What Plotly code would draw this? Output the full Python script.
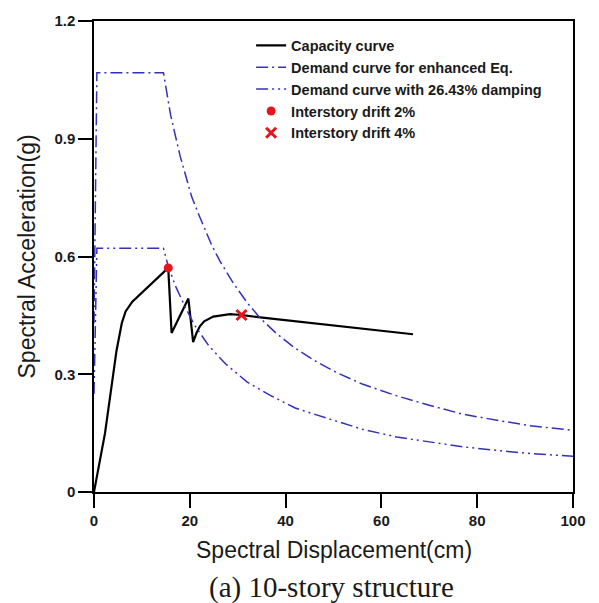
import plotly.graph_objects as go

# ---- data ----
capacity_sd = [0, 2.3, 4.7, 5.8, 6.6, 8.0, 15.5, 16.2, 19.7, 20.7, 21.4, 22.1, 23.0, 24.9, 28.4, 30.8, 34.7, 51.4, 66.6]
capacity_sa = [0, 0.15, 0.36, 0.43, 0.46, 0.485, 0.571, 0.405, 0.493, 0.382, 0.405, 0.422, 0.435, 0.447, 0.453, 0.451, 0.445, 0.422, 0.402]

enh_sd = [0, 0.6, 14.5, 16, 18, 20.4, 22.1, 24.6, 26.3, 29.1, 32, 34.7, 38, 41.6, 46, 50.7, 56, 63.2, 70, 77.1, 85, 91, 100]
enh_sa = [0.43, 1.068, 1.068, 0.96, 0.855, 0.752, 0.70, 0.628, 0.588, 0.532, 0.482, 0.443, 0.405, 0.37, 0.335, 0.304, 0.275, 0.245, 0.221, 0.198, 0.181, 0.169, 0.157]

damp_sd = [0, 0.6, 14.5, 15.5, 17, 19, 21, 24, 27.5, 32, 36.7, 42, 48.6, 56, 63.2, 70, 77.1, 85, 91, 100]
damp_sa = [0.25, 0.621, 0.621, 0.575, 0.525, 0.472, 0.425, 0.372, 0.326, 0.28, 0.247, 0.214, 0.188, 0.16, 0.14, 0.128, 0.115, 0.105, 0.098, 0.091]

drift2_sd = [15.5]
drift2_sa = [0.571]
drift4_sd = [30.8]
drift4_sa = [0.451]

x_ticks = [0, 20, 40, 60, 80, 100]
x_tick_labels = ["0", "20", "40", "60", "80", "100"]
y_ticks = [0, 0.3, 0.6, 0.9, 1.2]
y_tick_labels = ["0", "0.3", "0.6", "0.9", "1.2"]

BLUE = "#3431b8"
RED = "#e8141c"
TXT = "#1a1a1a"

fig = go.Figure()
fig.add_trace(go.Scatter(x=capacity_sd, y=capacity_sa, mode="lines", name="Capacity curve",
                         line=dict(color="black", width=2.2)))
fig.add_trace(go.Scatter(x=enh_sd, y=enh_sa, mode="lines", name="Demand curve for enhanced Eq.",
                         line=dict(color=BLUE, width=1.5, dash="12px,4px,2px,4px")))
fig.add_trace(go.Scatter(x=damp_sd, y=damp_sa, mode="lines", name="Demand curve with 26.43% damping",
                         line=dict(color=BLUE, width=1.5, dash="12px,4px,2px,4px,2px,4px")))
fig.add_trace(go.Scatter(x=drift2_sd, y=drift2_sa, mode="markers", name="Interstory drift 2%",
                         marker=dict(color=RED, size=9, symbol="circle")))
fig.add_trace(go.Scatter(x=drift4_sd, y=drift4_sa, mode="markers", name="Interstory drift 4%",
                         marker=dict(color=RED, size=10, symbol="x-thin", line=dict(color=RED, width=3))))

axis_common = dict(showline=True, linecolor="black", linewidth=1.5, mirror=True,
                   ticks="outside", ticklen=14, tickwidth=1.5, tickcolor="black",
                   showgrid=False, zeroline=False,
                   tickfont=dict(family="Liberation Sans, Arial", size=15, color=TXT))

fig.update_xaxes(range=[0, 100], tickvals=x_ticks,
                 ticktext=["<b>%s</b>" % t for t in x_tick_labels], **axis_common)
fig.update_yaxes(range=[0, 1.2], tickvals=y_ticks,
                 ticktext=["<b>%s</b>" % t for t in y_tick_labels], **axis_common)

fig.update_layout(
    width=599, height=603,
    margin=dict(l=94, r=26, t=17, b=111),
    paper_bgcolor="white", plot_bgcolor="white",
    showlegend=True,
    legend=dict(x=0.328, y=0.982, xanchor="left", yanchor="top",
                bgcolor="rgba(0,0,0,0)", borderwidth=0,
                font=dict(family="Liberation Sans, Arial", size=14.5, color=TXT, weight=700),
                tracegroupgap=0, itemsizing="trace"),
    annotations=[
        dict(text="Spectral Displacement(cm)", xref="paper", yref="paper", x=0.5, y=0,
             yshift=-58, xanchor="center", yanchor="middle", showarrow=False,
             font=dict(family="Liberation Sans, Arial", size=23, color=TXT)),
        dict(text="Spectral Acceleration(g)", xref="paper", yref="paper", x=0, y=0.5,
             xshift=-68, textangle=-90, xanchor="center", yanchor="middle", showarrow=False,
             font=dict(family="Liberation Sans, Arial", size=23, color=TXT)),
        dict(text="(a) 10-story structure", xref="paper", yref="paper", x=0.496, y=0,
             yshift=-95, xanchor="center", yanchor="middle", showarrow=False,
             font=dict(family="Liberation Serif, Times New Roman", size=29, color=TXT)),
    ],
)

fig.write_html("out.html")
